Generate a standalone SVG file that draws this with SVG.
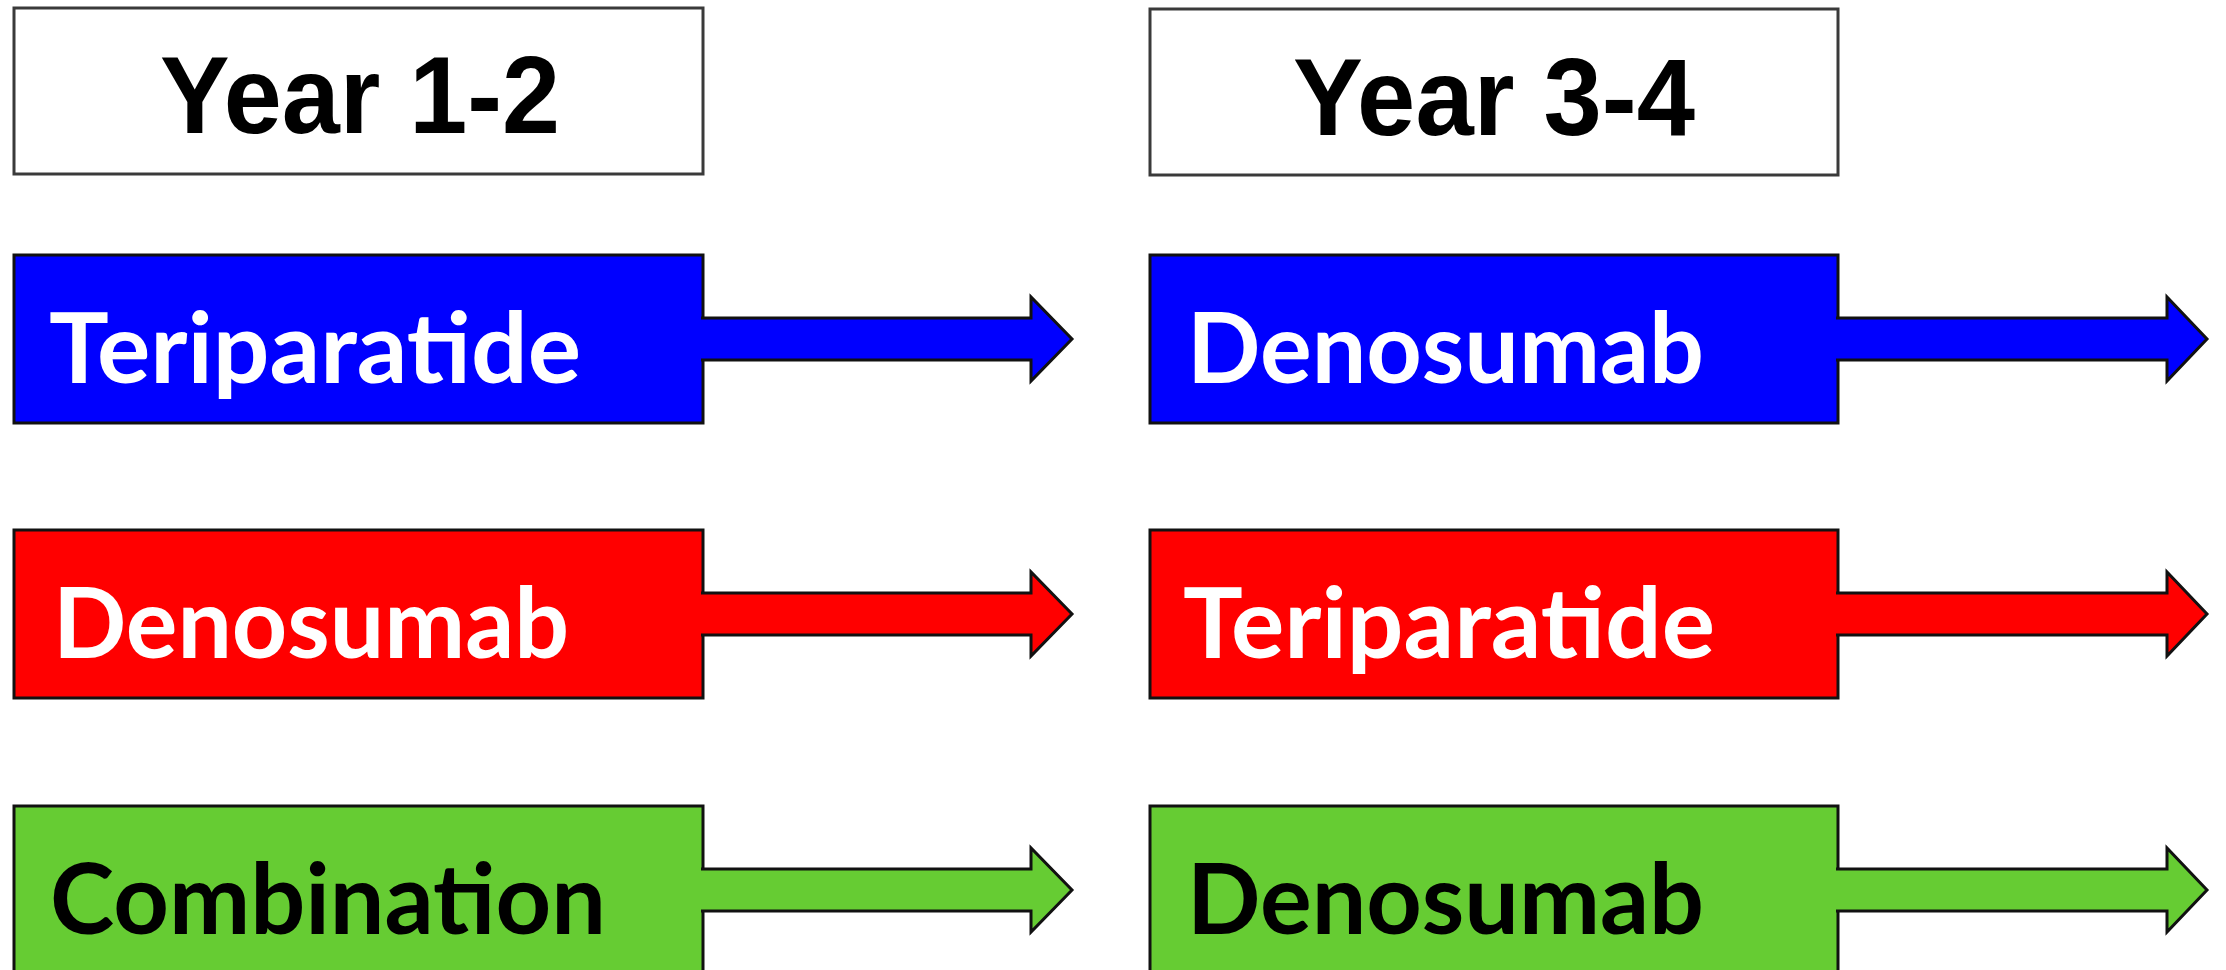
<svg xmlns="http://www.w3.org/2000/svg" width="2226" height="970" viewBox="0 0 2226 970">
  <style>
    .title-box { fill: #ffffff; stroke: #3a3a3a; stroke-width: 3; }
    .title { font-family: "Liberation Sans", Arial, sans-serif; font-weight: bold; font-size: 110px; fill: #000000; }
    .box { stroke: #111111; stroke-width: 3; }
    .label { font-family: Lato, "Open Sans", sans-serif; font-weight: bold; font-size: 97px; }
    .blue { fill: #0000ff; }
    .red { fill: #ff0000; }
    .green { fill: #66cc33; }
    .white { fill: #ffffff; }
    .black { fill: #000000; }
    .arrow { stroke: #111111; stroke-width: 3; stroke-linejoin: miter; }
  </style>
  <rect width="2226" height="970" fill="#ffffff"/>

  <g id="year12">
    <rect class="title-box" x="14" y="8" width="689" height="166"/>
    <text class="title" x="160" y="133" textLength="400" lengthAdjust="spacingAndGlyphs">Year 1-2</text>
  </g>
  <g id="year34">
    <rect class="title-box" x="1150" y="9" width="688" height="166"/>
    <text class="title" x="1293" y="135" textLength="402" lengthAdjust="spacingAndGlyphs">Year 3-4</text>
  </g>

  <g id="teriparatide-1">
    <rect class="box blue" x="14" y="255" width="689" height="168"/>
    <text class="label white" x="49" y="383" textLength="532" lengthAdjust="spacingAndGlyphs">Teriparatide</text>
  </g>
  <g id="denosumab-1">
    <rect class="box red" x="14" y="530" width="689" height="168"/>
    <text class="label white" x="53" y="658" textLength="516" lengthAdjust="spacingAndGlyphs">Denosumab</text>
  </g>
  <g id="combination-1">
    <rect class="box green" x="14" y="806" width="689" height="168"/>
    <text class="label black" x="50" y="934" textLength="556" lengthAdjust="spacingAndGlyphs">Combination</text>
  </g>

  <g id="denosumab-2">
    <rect class="box blue" x="1150" y="255" width="688" height="168"/>
    <text class="label white" x="1187" y="383" textLength="517" lengthAdjust="spacingAndGlyphs">Denosumab</text>
  </g>
  <g id="teriparatide-2">
    <rect class="box red" x="1150" y="530" width="688" height="168"/>
    <text class="label white" x="1183" y="658" textLength="532" lengthAdjust="spacingAndGlyphs">Teriparatide</text>
  </g>
  <g id="denosumab-3">
    <rect class="box green" x="1150" y="806" width="688" height="168"/>
    <text class="label black" x="1187" y="934" textLength="517" lengthAdjust="spacingAndGlyphs">Denosumab</text>
  </g>

  <g id="connectors">
    <path class="arrow blue" d="M701,318 L1031,318 L1031,297 L1072,339 L1031,381 L1031,360 L701,360"/>
    <path class="arrow red" d="M701,593 L1031,593 L1031,572 L1072,614 L1031,656 L1031,635 L701,635"/>
    <path class="arrow green" d="M701,869 L1031,869 L1031,848 L1072,890 L1031,932 L1031,911 L701,911"/>
    <path class="arrow blue" d="M1836,318 L2167,318 L2167,297 L2207,339 L2167,381 L2167,360 L1836,360"/>
    <path class="arrow red" d="M1836,593 L2167,593 L2167,572 L2207,614 L2167,656 L2167,635 L1836,635"/>
    <path class="arrow green" d="M1836,869 L2167,869 L2167,848 L2207,890 L2167,932 L2167,911 L1836,911"/>
  </g>
</svg>
